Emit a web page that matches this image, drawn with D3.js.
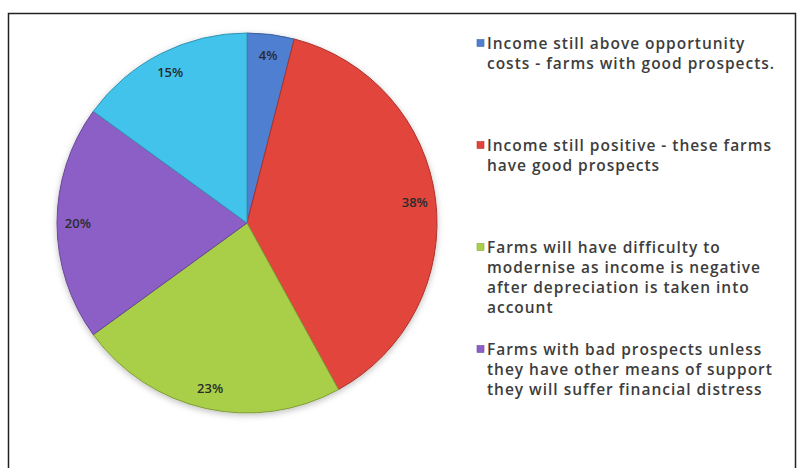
<!DOCTYPE html>
<html>
<head>
<meta charset="utf-8">
<script src="https://cdn.jsdelivr.net/npm/d3@7"></script>
<style>
  html, body { margin: 0; padding: 0; background: #ffffff; }
  svg { display: block; }
</style>
</head>
<body>
<div id="chart"></div>
<script>
// Share of farms by income situation (percent of total)
const shares = [4, 38, 23, 20, 15];
const sliceColors = ["#4f7fd0", "#e2443b", "#a9cf48", "#8b5fc6", "#43c3ec"];
const legendLabels = [
  ["Income still above opportunity", "costs - farms with good prospects."],
  ["Income still positive - these farms", "have good prospects"],
  ["Farms will have difficulty to", "modernise as income is negative", "after depreciation is taken into", "account"],
  ["Farms with bad prospects unless", "they have other means of support", "they will suffer financial distress"]
];

const width = 797, height = 468;
const cx = 247, cy = 223, radius = 190;

const svg = d3.select("#chart").append("svg")
  .attr("width", width).attr("height", height);

// frame
svg.append("rect")
  .attr("x", 8.5).attr("y", 13.5)
  .attr("width", 787).attr("height", 470)
  .attr("fill", "none").attr("stroke", "#222").attr("stroke-width", 1.5);

const pie = d3.pie().sort(null).value(d => d);
const arcs = pie(shares);
const arc = d3.arc().innerRadius(0).outerRadius(radius);
const labelArc = d3.arc().innerRadius(radius * 0.89).outerRadius(radius * 0.89);

const defs = svg.append("defs");
const shadow = defs.append("filter").attr("id", "pieShadow")
  .attr("x", "-10%").attr("y", "-10%").attr("width", "120%").attr("height", "125%");
shadow.append("feDropShadow").attr("dx", 0).attr("dy", 2).attr("stdDeviation", 3)
  .attr("flood-color", "#000").attr("flood-opacity", 0.25);

const g = svg.append("g").attr("transform", `translate(${cx},${cy})`);

g.append("g").attr("filter", "url(#pieShadow)")
  .selectAll("path").data(arcs).join("path")
  .attr("d", arc)
  .attr("fill", (d, i) => sliceColors[i])
  .attr("stroke", (d, i) => d3.color(sliceColors[i]).darker(0.8))
  .attr("stroke-width", 1);

g.selectAll("text.val").data(arcs).join("text")
  .attr("class", "val")
  .attr("transform", d => `translate(${labelArc.centroid(d)})`)
  .attr("text-anchor", "middle")
  .attr("dominant-baseline", "central")
  .style("font-family", "'Open Sans', sans-serif")
  .style("font-size", "13px")
  .style("font-weight", 600)
  .attr("fill", "#2b2b2b")
  .text(d => `${d.data}%`);

// legend
const legendX = 477, firstLine = 43, itemGap = 102, lineH = 20;
const textX = legendX + 10, textRight = 775;
const legend = svg.append("g");
const legendTexts = [];
legendLabels.forEach((lines, i) => {
  const y0 = firstLine + i * itemGap;
  legend.append("rect")
    .attr("x", legendX).attr("y", y0 - 3.5)
    .attr("width", 7).attr("height", 7)
    .attr("fill", sliceColors[i])
    .attr("stroke", d3.color(sliceColors[i]).darker(0.6)).attr("stroke-width", 0.6);
  lines.forEach((t, j) => {
    legendTexts.push(legend.append("text")
      .attr("x", textX).attr("y", y0 + j * lineH)
      .attr("dominant-baseline", "central")
      .style("font-family", "'Open Sans', sans-serif")
      .style("font-size", "15.5px")
      .style("font-weight", 600)
      .attr("fill", "#3d3d3d")
      .text(t));
  });
});
// spread letters so the widest line fills the legend column
const widest = legendTexts.reduce((a, s) => {
  const n = s.node(); const w = n.getComputedTextLength();
  return w > a.w ? { w, chars: s.text().length } : a;
}, { w: 0, chars: 1 });
const spacing = Math.max(0, (textRight - textX - widest.w) / widest.chars);
legendTexts.forEach(s => s.style("letter-spacing", `${spacing}px`));
</script>
</body>
</html>
